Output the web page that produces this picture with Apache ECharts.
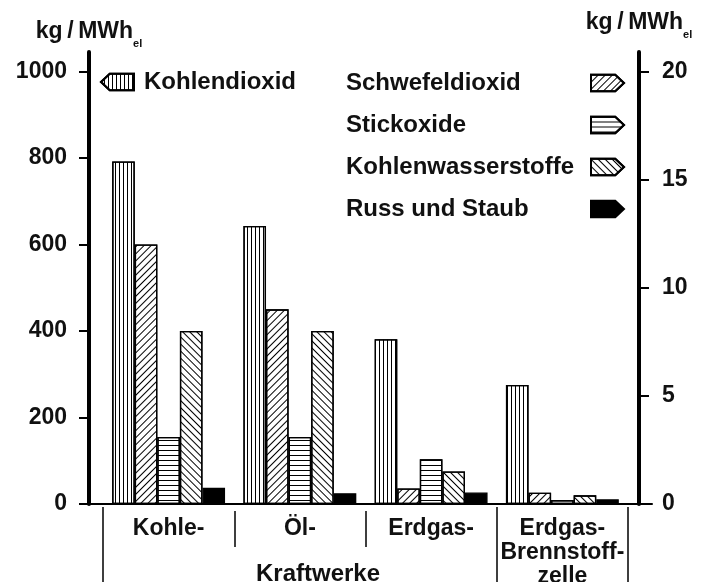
<!DOCTYPE html>
<html>
<head>
<meta charset="utf-8">
<script src="https://cdn.jsdelivr.net/npm/echarts@6/dist/echarts.min.js"></script>
<style>html,body{margin:0;padding:0;background:#fff}#c{width:705px;height:582px}</style>
</head>
<body>
<div id="c"></div>
<script>
// ---- data ----
const categories = ['Kohle-', 'Öl-', 'Erdgas-', 'Erdgas-\nBrennstoff-\nzelle'];
const co2  = [792, 643, 381, 275];        // left axis, kg/MWh_el
const so2  = [12.0, 9.0, 0.72, 0.52];     // right axis
const nox  = [3.1, 3.1, 2.07, 0.18];
const hc   = [8.0, 8.0, 1.5, 0.4];
const dust = [0.75, 0.5, 0.53, 0.22];
const leftTicks  = [0, 200, 400, 600, 800, 1000];
const rightTicks = [0, 5, 10, 15, 20];
const seriesNames = ['Kohlendioxid', 'Schwefeldioxid', 'Stickoxide', 'Kohlenwasserstoffe', 'Russ und Staub'];
const groupLabel = 'Kraftwerke';
const unitMain = 'kg\u2009/\u2009MWh';
const unitSub = 'el';

// ---- styling ----
const FONT = 'Liberation Sans';
const INK = '#111';
const leftMax = 1045, rightMax = leftMax / 50;
const gTop = 52, gBottom = 78;
const leftArrow = 'path://M0,8.5L9,0L34,0L34,17L9,17Z';
const rightArrow = 'path://M0,0L25,0L34,8.5L25,17L0,17Z';

function stripes(rot, gap) {
  return { symbol: 'rect', symbolSize: 1, dashArrayX: [1, 0], dashArrayY: [1, gap], rotation: rot, color: '#000' };
}
const styles = [
  { color: '#fff', borderColor: '#000', borderWidth: 1.3, decal: stripes(Math.PI / 2, 2.6) },
  { color: '#fff', borderColor: '#000', borderWidth: 1.3, decal: stripes(-Math.PI / 4, 3.5) },
  { color: '#fff', borderColor: '#000', borderWidth: 1.3, decal: stripes(0, 3.2) },
  { color: '#fff', borderColor: '#000', borderWidth: 1.3, decal: stripes(Math.PI / 4, 3.5) },
  { color: '#000', borderColor: '#000', borderWidth: 1.3 }
];
const values = [co2, so2, nox, hc, dust];

const nameRich = {
  a: { fontFamily: FONT, fontWeight: 'bold', fontSize: 23, color: INK, lineHeight: 26 },
  b: { fontFamily: FONT, fontWeight: 'bold', fontSize: 11, color: INK, lineHeight: 26, verticalAlign: 'bottom', padding: [0, 0, -4, 0] }
};
const tickLabel = { fontFamily: FONT, fontWeight: 'bold', fontSize: 23, color: INK, formatter: v => String(v) };
const legendRich = { t: { fontFamily: FONT, fontWeight: 'bold', fontSize: 24, color: INK, lineHeight: 24, width: 240, align: 'left' } };

const gridBase = { top: gTop, bottom: gBottom, containLabel: false, outerBoundsMode: 'none' };

const chart = echarts.init(document.getElementById('c'), null, { renderer: 'canvas' });
chart.setOption({
  animation: false,
  backgroundColor: '#fff',
  title: {
    text: groupLabel, left: 256, top: 562, padding: 0,
    textStyle: { fontFamily: FONT, fontWeight: 'bold', fontSize: 24, color: INK }
  },
  grid: [
    Object.assign({ left: 89, right: 66 }, gridBase),
    Object.assign({ left: 103, right: 77 }, gridBase),
    Object.assign({ left: 80, right: 53 }, gridBase)
  ],
  xAxis: [
    { gridIndex: 0, type: 'value', show: false, min: 0, max: 1 },
    { gridIndex: 1, type: 'category', data: categories, position: 'bottom',
      axisLine: { show: false }, axisTick: { show: false },
      axisLabel: { fontFamily: FONT, fontWeight: 'bold', fontSize: 23, color: INK, lineHeight: 24, margin: 13, interval: 0 } },
    { gridIndex: 1, type: 'value', min: 0, max: 4, position: 'bottom', offset: 7,
      axisLine: { show: false, onZero: false }, axisLabel: { show: false }, splitLine: { show: false },
      axisTick: { show: true, inside: false, length: 36, lineStyle: { color: '#000', width: 1.5 }, customValues: [1, 2] } },
    { gridIndex: 1, type: 'value', min: 0, max: 4, position: 'bottom', offset: 3,
      axisLine: { show: false, onZero: false }, axisLabel: { show: false }, splitLine: { show: false },
      axisTick: { show: true, inside: false, length: 90, lineStyle: { color: '#000', width: 1.5 }, customValues: [0, 3, 4] } },
    { gridIndex: 2, type: 'value', min: 0, max: 1, position: 'bottom',
      axisLine: { show: true, onZero: false, lineStyle: { color: '#000', width: 2 } },
      axisTick: { show: false }, axisLabel: { show: false }, splitLine: { show: false } }
  ],
  yAxis: [
    { gridIndex: 0, type: 'value', position: 'left', min: 0, max: leftMax,
      name: '{a|' + unitMain + '}{b|' + unitSub + '}', nameLocation: 'end', nameGap: 7,
      nameTextStyle: { rich: nameRich },
      axisLine: { show: true, lineStyle: { color: '#000', width: 4 } },
      axisTick: { show: true, length: 10, lineStyle: { color: '#000', width: 2 }, customValues: leftTicks },
      axisLabel: Object.assign({ margin: 22, customValues: leftTicks }, tickLabel),
      splitLine: { show: false } },
    { gridIndex: 0, type: 'value', position: 'right', min: 0, max: rightMax,
      name: '{a|' + unitMain + '}{b|' + unitSub + '}', nameLocation: 'end', nameGap: 16,
      nameTextStyle: { rich: nameRich },
      axisLine: { show: true, lineStyle: { color: '#000', width: 4 } },
      axisTick: { show: true, length: 10, lineStyle: { color: '#000', width: 2 }, customValues: rightTicks },
      axisLabel: Object.assign({ margin: 23, customValues: rightTicks }, tickLabel),
      splitLine: { show: false } },
    { gridIndex: 1, type: 'value', min: 0, max: leftMax, show: false, splitLine: { show: false } },
    { gridIndex: 1, type: 'value', min: 0, max: rightMax, show: false, splitLine: { show: false } },
    { gridIndex: 2, type: 'value', min: 0, max: 1, show: false, splitLine: { show: false } }
  ],
  legend: [
    { data: [{ name: seriesNames[0], icon: leftArrow }], left: 100, top: 70, padding: 0,
      itemWidth: 33, itemHeight: 17, selectedMode: false,
      textStyle: { fontFamily: FONT, fontWeight: 'bold', fontSize: 24, color: INK, lineHeight: 24, padding: [0, 0, 0, 5] } },
    { data: seriesNames.slice(1).map(n => ({ name: n, icon: rightArrow })), right: 80, top: 71, padding: 0,
      orient: 'vertical', align: 'right', itemGap: 18,
      itemWidth: 33, itemHeight: 17, selectedMode: false,
      formatter: n => '{t|' + n + '}',
      textStyle: { fontFamily: FONT, fontWeight: 'bold', fontSize: 24, color: INK, lineHeight: 24, rich: legendRich } }
  ],
  series: seriesNames.map((n, i) => ({
    name: n, type: 'bar', xAxisIndex: 1, yAxisIndex: i === 0 ? 2 : 3,
    data: values[i], barGap: '0%', barCategoryGap: '14%',
    itemStyle: styles[i]
  }))
});
</script>
</body>
</html>
